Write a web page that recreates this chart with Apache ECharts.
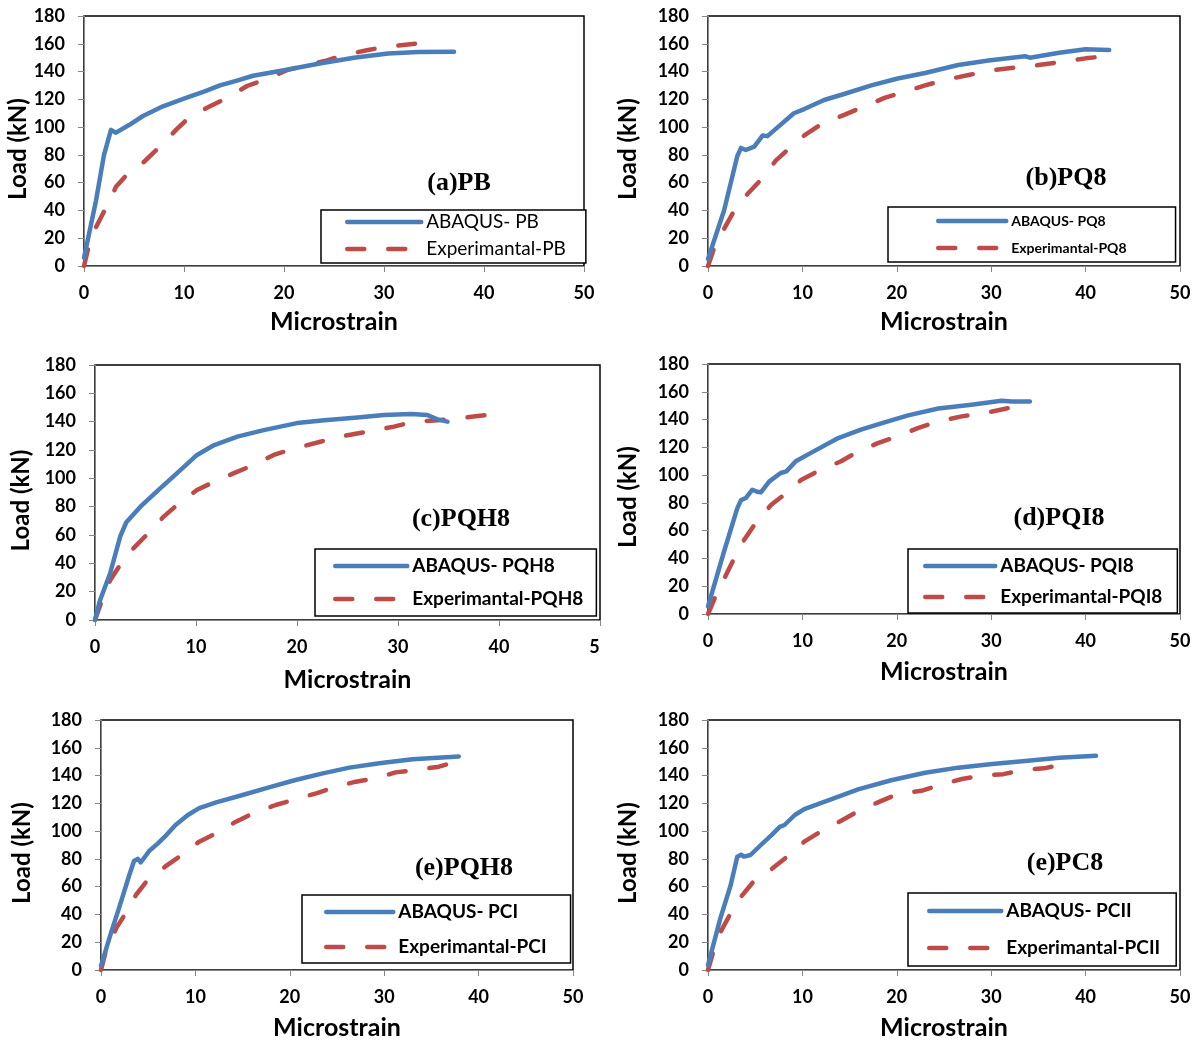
<!DOCTYPE html>
<html>
<head>
<meta charset="utf-8">
<script src="https://cdn.jsdelivr.net/npm/echarts@6/dist/echarts.min.js"></script>
<style>
html,body{margin:0;padding:0;background:#fff;}
#chart{width:1198px;height:1041px;}
</style>
</head>
<body>
<div id="chart"></div>
<script>
// ---------- DATA ----------
const yTicks = [0, 20, 40, 60, 80, 100, 120, 140, 160, 180];
const xTicks = [0, 10, 20, 30, 40, 50];
const xAxisTitle = 'Microstrain';
const yAxisTitle = 'Load (kN)';
const panelTitles = ['(a)PB', '(b)PQ8', '(c)PQH8', '(d)PQI8', '(e)PQH8', '(e)PC8'];
const abaqusNames = ['ABAQUS- PB', 'ABAQUS- PQ8', 'ABAQUS- PQH8', 'ABAQUS- PQI8', 'ABAQUS- PCI', 'ABAQUS- PCII'];
const expNames = ['Experimantal-PB', 'Experimantal-PQ8', 'Experimantal-PQH8', 'Experimantal-PQI8', 'Experimantal-PCI', 'Experimantal-PCII'];

const pbAbaqus = [[0,6],[1.2,47],[2,80],[2.7,98],[3.2,96],[4.5,101.5],[5.9,108],[7.9,115],[10.2,121],[12,125.5],[13.6,130],[15.3,133.5],[16.9,137],[20,141],[23.7,146],[27,150],[30.4,153],[33.4,154],[37,154.3]];
const pbExperimental = [[0,0],[0.5,15],[1.2,28],[2.2,42],[3.2,57],[4.4,66.7],[6.0,75],[7.6,86],[9.2,98],[10.6,107.5],[12.6,115],[14.3,121],[16.3,129.6],[18,134],[20.3,141],[22.3,144.7],[24.3,148],[26,152],[28.4,155.5],[30.4,158],[33.1,160]];

const pq8Abaqus = [[0,5],[1.7,40],[3.1,79],[3.5,85],[4,83.5],[4.9,86],[5.8,94],[6.3,93.5],[7.4,100],[9.1,110],[10.2,113],[12.3,119.5],[14.5,124],[17.3,130],[20.1,135],[23,139],[26.5,144.7],[29.7,148],[33.6,151],[34.1,150],[37.2,153.6],[40,156],[42.5,155.5]];
const pq8Experimental = [[0,0],[0.8,16],[2.8,40],[4.2,52],[5.6,62],[7.2,76],[8.8,86],[10.2,94],[12.2,103],[14.5,109],[16.6,115],[18.7,121],[20.8,125.5],[23,130],[25.1,134],[27.6,137.5],[30.1,141],[32.6,143],[35,144.7],[37.5,147],[40,149.5],[42,151]];

const pqh8Abaqus = [[0,0],[0.5,14],[1.5,33],[2.5,59],[3.1,69],[4.5,80],[6.1,90.6],[8.1,103.5],[10.1,116.5],[11.8,123.5],[14.1,129.4],[16.7,134],[20,139],[22.7,141],[26,143],[28.6,144.7],[31.3,145.4],[32.9,144.7],[33.9,141.6],[34.9,140]];
const pqh8Experimental = [[0,0],[0.7,14],[1.5,28],[2.5,39],[3.8,50.6],[5.1,60],[6.8,73],[8.1,81],[10.1,91.8],[11.8,97.6],[13.7,103.5],[15.7,109.4],[17.7,116.5],[19.7,121],[22.4,126],[24.7,130],[27,133],[29.6,136.5],[31.6,140],[33.9,141],[35.9,142.4],[37.9,144],[39.9,145.4]];

const pqi8Abaqus = [[0,5.5],[1.7,45],[3.1,76],[3.5,82],[4,83.5],[4.7,89.5],[5.2,88],[5.6,87.6],[6.5,95.5],[7.7,101.5],[8.3,102.7],[9.3,110],[10.9,116],[13.8,126.7],[16.2,132.7],[18.7,138],[21.2,143],[24.4,148],[27.9,150.7],[31.1,153.6],[32.2,153],[34.1,153]];
const pqi8Experimental = [[0,0],[0.8,12.7],[2.1,30.7],[3.5,50],[4.9,64],[6.7,78.7],[8.1,86],[9.9,96.7],[11.6,102.7],[14.1,110],[15.9,117],[18,123],[20.1,128],[22.3,134],[24.4,138.7],[26.9,142.3],[29.4,144.7],[31.5,147.8],[32.9,150]];

const pciAbaqus = [[0,3],[1.1,27.6],[1.9,44.4],[3,68.4],[3.5,78.5],[3.9,80],[4.2,77.5],[4.8,82.8],[5.1,85.7],[6,91],[6.9,97],[7.9,104.4],[9.2,111.6],[10.4,116.6],[12.2,120.7],[15,126],[17.8,131.5],[20.6,136.8],[23.5,141.6],[26.3,145.7],[29.5,148.8],[33,151.7],[37.9,153.8]];
const pciExperimental = [[0,0],[0.5,13],[1.6,30],[2.5,39.6],[3.7,54],[4.8,63.6],[6.9,75],[8.3,81.6],[10.4,92.4],[12.2,98.4],[14.3,106.8],[16.1,112.8],[18.5,118.8],[20.6,122.9],[22.8,127.2],[24.9,132],[27,135.6],[29.1,138],[31.2,142.3],[33.4,144],[35.8,146.4],[37.9,150.5]];

const pciiAbaqus = [[0,3.6],[1.3,37],[2.4,61],[3.1,81.6],[3.5,83],[3.8,81.6],[4.5,82.8],[5.6,90],[6.7,97],[7.6,103],[8.1,104.4],[9.2,111.6],[10.2,115.9],[13.1,123],[15.9,130],[19.4,136.6],[23,142],[26.5,145.7],[30.1,148.3],[33.6,150.5],[37.2,152.9],[41.1,154.2]];
const pciiExperimental = [[0,0],[0.6,14],[1.3,27],[2.4,40.8],[3.5,52.8],[4.9,64.3],[6.8,73],[8.6,82.8],[10.2,92.4],[12.2,100.8],[14.1,107.5],[16,114.7],[18,120.7],[20.1,126.7],[22.6,129],[24.6,133.4],[26.9,137.5],[29,140],[31.3,141],[33.4,144],[35.6,145.2],[37.9,148.5]];

const abaqusData = [pbAbaqus, pq8Abaqus, pqh8Abaqus, pqi8Abaqus, pciAbaqus, pciiAbaqus];
const expData = [pbExperimental, pq8Experimental, pqh8Experimental, pqi8Experimental, pciExperimental, pciiExperimental];

// ---------- LAYOUT / STYLE ----------
const FONT = 'Lato, "Open Sans", sans-serif';
const BLUE = '#4A7EBB';
const RED = '#BE4B48';
const DASH = [17, 24];
const layout = [
  {grid:{left:84, top:16, width:500, height:250}, yGap:52, xGap:43, title:[459,183],
   legend:{left:321, top:210, padding:[1,20,3,24], itemGap:5, itemWidth:74, rowH:22, fs:19, fw:'normal'}},
  {grid:{left:708, top:16, width:472, height:250}, yGap:68, xGap:43, title:[1066,178],
   legend:{left:888, top:207, padding:[6,49,6,48], itemGap:11, itemWidth:68, rowH:16, fs:14, fw:'bold'}},
  {grid:{left:95, top:365, width:505, height:255}, yGap:62, xGap:47, title:[461,519],
   legend:{left:315, top:549, padding:[6,13,6,18], itemGap:11, itemWidth:72, rowH:22, fs:19, fw:'bold'}},
  {grid:{left:708, top:364, width:472, height:250}, yGap:68, xGap:45, title:[1059,518],
   legend:{left:908, top:549, padding:[6,15,5,15], itemGap:9, itemWidth:70, rowH:22, fs:19, fw:'bold'}},
  {grid:{left:101, top:720, width:472, height:250}, yGap:67, xGap:45, title:[464,868],
   legend:{left:302, top:895, padding:[6,24,5,22], itemGap:13, itemWidth:67, rowH:22, fs:19, fw:'bold'}},
  {grid:{left:708, top:720, width:472, height:250}, yGap:68, xGap:45, title:[1065,863],
   legend:{left:908, top:893, padding:[7,16,7,19], itemGap:15, itemWidth:72, rowH:22, fs:19, fw:'bold'}}
];

const grids = [], xAxes = [], yAxes = [], legends = [], series = [], graphics = [];
layout.forEach((p, i) => {
  grids.push(Object.assign({show:true, borderColor:'#000', borderWidth:1.5, containLabel:false}, p.grid));
  const xLabel = {
    color:'#000', fontFamily:FONT, fontWeight:'bold', fontSize:18, margin:18
  };
  if (i === 2) {
    xLabel.formatter = v => v === xTicks[xTicks.length-1] ? '{c|' + String(v).charAt(0) + '}' : String(v);
    xLabel.rich = {c:{color:'#000', fontFamily:FONT, fontWeight:'bold', fontSize:18, padding:[0,11,0,0]}};
  }
  xAxes.push({
    type:'value', gridIndex:i, min:xTicks[0], max:xTicks[xTicks.length-1], interval:xTicks[1]-xTicks[0],
    name:xAxisTitle, nameLocation:'middle', nameGap:p.xGap,
    nameTextStyle:{color:'#000', fontFamily:FONT, fontWeight:'bold', fontSize:25},
    axisLine:{show:true, onZero:false, lineStyle:{color:'#868686', width:1}},
    axisTick:{show:true, inside:false, length:6, lineStyle:{color:'#868686'}},
    axisLabel:xLabel,
    splitLine:{show:false}
  });
  yAxes.push({
    type:'value', gridIndex:i, min:yTicks[0], max:yTicks[yTicks.length-1], interval:yTicks[1]-yTicks[0],
    name:yAxisTitle, nameLocation:'middle', nameGap:p.yGap, nameRotate:90,
    nameTextStyle:{color:'#000', fontFamily:FONT, fontWeight:'bold', fontSize:24, padding:[0,16,0,0]},
    axisLine:{show:true, onZero:false, lineStyle:{color:'#868686', width:1}},
    axisTick:{show:true, inside:false, length:6, lineStyle:{color:'#868686'}},
    axisLabel:{color:'#000', fontFamily:FONT, fontWeight:'bold', fontSize:18, margin:19},
    splitLine:{show:false}
  });
  const L = p.legend;
  legends.push({
    data:[
      {name:abaqusNames[i], itemStyle:{opacity:0}, lineStyle:{color:BLUE, width:4.5, type:'solid', cap:'round'}},
      {name:expNames[i], itemStyle:{opacity:0}, lineStyle:{color:RED, width:4.5, type:DASH, cap:'round'}}
    ],
    orient:'vertical', left:L.left, top:L.top, padding:L.padding, itemGap:L.itemGap,
    itemWidth:L.itemWidth, itemHeight:L.rowH,
    borderColor:'#000', borderWidth:1.5, borderRadius:0, backgroundColor:'#fff',
    selectedMode:false,
    textStyle:{color:'#000', fontFamily:FONT, fontWeight:L.fw, fontSize:L.fs, lineHeight:L.rowH},
    itemStyle:{opacity:0},
    lineStyle:{width:4.5, cap:'round'}
  });
  series.push({
    name:abaqusNames[i], type:'line', xAxisIndex:i, yAxisIndex:i, data:abaqusData[i],
    showSymbol:false, symbol:'none', smooth:false, color:BLUE,
    lineStyle:{color:BLUE, width:4.5, cap:'round', join:'round'}, z:3
  });
  series.push({
    name:expNames[i], type:'line', xAxisIndex:i, yAxisIndex:i, data:expData[i],
    showSymbol:false, symbol:'none', smooth:false, color:RED,
    lineStyle:{color:RED, width:4.5, type:DASH, cap:'round', join:'round'}, z:2
  });
  graphics.push({
    type:'text', x:p.title[0], y:p.title[1], z:10,
    style:{text:panelTitles[i], fill:'#000', font:'bold 26px "Liberation Serif", serif', textAlign:'center', textVerticalAlign:'middle'}
  });
});

const chart = echarts.init(document.getElementById('chart'), null, {renderer:'canvas'});
chart.setOption({
  animation:false,
  backgroundColor:'#fff',
  grid:grids, xAxis:xAxes, yAxis:yAxes, legend:legends, series:series, graphic:graphics
});
</script>
</body>
</html>
